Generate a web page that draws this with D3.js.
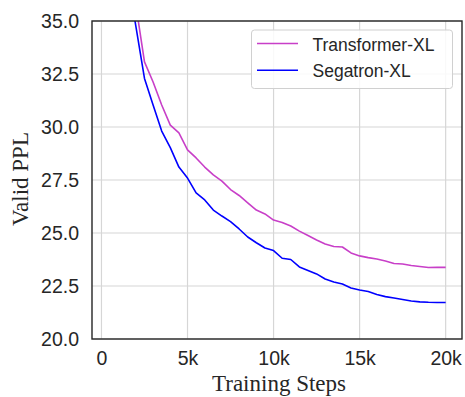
<!DOCTYPE html>
<html>
<head>
<meta charset="utf-8">
<script src="https://cdn.jsdelivr.net/npm/d3@7"></script>
<style>
  body { margin: 0; background: #fff; }
  svg { display: block; }
</style>
</head>
<body>
<div id="chart"></div>
<script>
// data (steps in training iterations)
const steps = [1500, 2000, 2500, 3000, 3500, 4000, 4500, 5000, 5500, 6000, 6500, 7000,
  7500, 8000, 8500, 9000, 9500, 10000, 10500, 11000, 11500, 12000, 12500, 13000,
  13500, 14000, 14500, 15000, 15500, 16000, 16500, 17000, 17500, 18000, 18500,
  19000, 19500, 20000];
const transformerXL = [38.5, 35.75, 33.07, 32.12, 31.04, 30.09, 29.72, 28.92, 28.54, 28.11,
  27.74, 27.45, 27.05, 26.77, 26.42, 26.08, 25.9, 25.61, 25.5, 25.33, 25.09, 24.88,
  24.67, 24.48, 24.36, 24.34, 24.06, 23.92, 23.84, 23.77, 23.68, 23.56, 23.54, 23.47,
  23.42, 23.37, 23.38, 23.38];
const segatronXL = [37.2, 34.75, 32.29, 31.04, 29.81, 29.03, 28.11, 27.59, 26.89, 26.56,
  26.08, 25.8, 25.54, 25.19, 24.81, 24.54, 24.29, 24.17, 23.81, 23.75, 23.4, 23.23,
  23.07, 22.83, 22.69, 22.59, 22.41, 22.31, 22.24, 22.1, 22.0, 21.93, 21.86, 21.79,
  21.75, 21.73, 21.72, 21.72];
const seriesNames = ["Transformer-XL", "Segatron-XL"];
const xTicks = [0, 5000, 10000, 15000, 20000];
const xTickLabels = ["0", "5k", "10k", "15k", "20k"];
const yTicks = [20, 22.5, 25, 27.5, 30, 32.5, 35];

const W = 465, H = 397;
const pLeft = 92, pRight = 462, pTop = 21, pBottom = 339;
const ink = "#262626";
const colors = ["#c83fc8", "#0000ff"];

const svg = d3.select("#chart").append("svg")
    .attr("width", W).attr("height", H);

const x = d3.scaleLinear().domain([-550, 20950]).range([pLeft, pRight]);
const y = d3.scaleLinear().domain([20, 35]).range([pBottom, pTop]);

svg.append("clipPath").attr("id", "plotclip")
  .append("rect").attr("x", pLeft).attr("y", pTop)
  .attr("width", pRight - pLeft).attr("height", pBottom - pTop);

// grid
const grid = svg.append("g");
grid.selectAll(".gx").data(xTicks).enter().append("line")
    .attr("x1", d => x(d)).attr("x2", d => x(d))
    .attr("y1", pTop).attr("y2", pBottom)
    .attr("stroke", "#d6d6d6").attr("stroke-width", 1.2);
grid.selectAll(".gy").data(yTicks).enter().append("line")
    .attr("x1", pLeft).attr("x2", pRight)
    .attr("y1", d => y(d)).attr("y2", d => y(d))
    .attr("stroke", "#d6d6d6").attr("stroke-width", 1.2);

// axes (tick marks hidden, only labels)
const xAxis = d3.axisBottom(x).tickValues(xTicks)
    .tickFormat((d, i) => xTickLabels[i]).tickSize(0).tickPadding(12);
const yAxis = d3.axisLeft(y).tickValues(yTicks)
    .tickFormat(d3.format(".1f")).tickSize(0).tickPadding(13);

const gx = svg.append("g").attr("transform", `translate(0,${pBottom})`).call(xAxis);
const gy = svg.append("g").attr("transform", `translate(${pLeft},0)`).call(yAxis);
[gx, gy].forEach(g => {
  g.select(".domain").remove();
  g.selectAll("text")
    .attr("fill", ink)
    .style("font-family", "'Liberation Sans', Arial, sans-serif")
    .style("font-size", "19.5px");
});

// lines
const line = d3.line().x((d, i) => x(steps[i])).y(d => y(d));
const plot = svg.append("g").attr("clip-path", "url(#plotclip)");
[transformerXL, segatronXL].forEach((vals, k) => {
  plot.append("path").datum(vals)
      .attr("d", line)
      .attr("fill", "none")
      .attr("stroke", colors[k])
      .attr("stroke-width", 1.6)
      .attr("stroke-linejoin", "round");
});

// frame
svg.append("rect")
    .attr("x", pLeft).attr("y", pTop)
    .attr("width", pRight - pLeft).attr("height", pBottom - pTop)
    .attr("fill", "none").attr("stroke", ink).attr("stroke-width", 1.4);

// legend
const lg = svg.append("g");
lg.append("rect")
    .attr("x", 251.5).attr("y", 30).attr("width", 201).attr("height", 58.5)
    .attr("rx", 3).attr("fill", "#fff").attr("fill-opacity", 0.85)
    .attr("stroke", "#d0d0d0").attr("stroke-width", 1);
seriesNames.forEach((name, k) => {
  const ly = 43.5 + k * 26.7;
  lg.append("line")
      .attr("x1", 257).attr("x2", 298).attr("y1", ly).attr("y2", ly)
      .attr("stroke", colors[k]).attr("stroke-width", 1.6);
  lg.append("text")
      .attr("x", 312.5).attr("y", ly + 7)
      .attr("fill", ink)
      .style("font-family", "'Liberation Sans', Arial, sans-serif")
      .style("font-size", "17.5px")
      .text(name);
});

// axis titles
svg.append("text")
    .attr("x", (pLeft + pRight) / 2 + 2).attr("y", 391)
    .attr("text-anchor", "middle")
    .attr("fill", ink)
    .style("font-family", "'Liberation Serif', 'Times New Roman', serif")
    .style("font-size", "23px")
    .text("Training Steps");
svg.append("text")
    .attr("transform", `translate(28,${(pTop + pBottom) / 2 - 1}) rotate(-90)`)
    .attr("text-anchor", "middle")
    .attr("fill", ink)
    .style("font-family", "'Liberation Serif', 'Times New Roman', serif")
    .style("font-size", "23px")
    .text("Valid PPL");
</script>
</body>
</html>
